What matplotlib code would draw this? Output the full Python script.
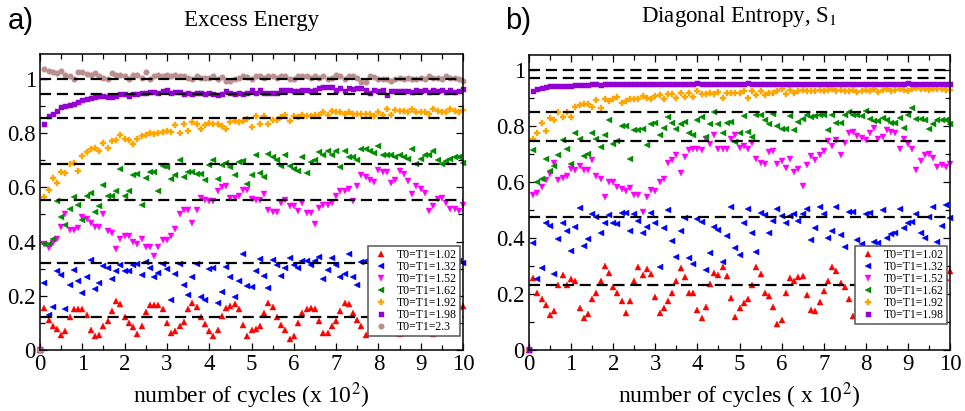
"""
Excess energy and diagonal entropy vs number of cycles
"""

import numpy as np
import matplotlib
matplotlib.use("Agg")
from matplotlib import pyplot as plt
from matplotlib.ticker import MultipleLocator, FuncFormatter

plt.rcParams['font.family'] = 'serif'
plt.rcParams['font.serif'] = ['Liberation Serif', 'DejaVu Serif']
plt.rcParams['mathtext.fontset'] = 'stix'

# =============================================================================
# DATA, x in units of 10^2 cycles
# =============================================================================

cycles = np.arange(101) / 10

# --- a) Excess Energy ---
e_102 = [0.0,
         0.156, 0.11, 0.09, 0.079, 0.056, 0.069, 0.12, 0.15, 0.15, 0.15,
         0.13, 0.075, 0.05, 0.056, 0.088, 0.106, 0.144, 0.18, 0.17, 0.12,
         0.10, 0.085, 0.06, 0.088, 0.14, 0.165, 0.165, 0.165, 0.15, 0.10,
         0.063, 0.069, 0.088, 0.103, 0.15, 0.173, 0.16, 0.12, 0.096, 0.069,
         0.05, 0.073, 0.125, 0.156, 0.163, 0.169, 0.153, 0.094, 0.053, 0.073,
         0.078, 0.09, 0.135, 0.173, 0.16, 0.12, 0.094, 0.075, 0.04, 0.053,
         0.10, 0.138, 0.153, 0.156, 0.15, 0.106, 0.063, 0.063, 0.088, 0.106,
         0.144, 0.175, 0.169, 0.135, 0.11, 0.088, 0.054, 0.07, 0.1, 0.14,
         0.17, 0.16, 0.12, 0.09, 0.06, 0.08, 0.12, 0.15, 0.17, 0.15,
         0.12, 0.08, 0.06, 0.08, 0.11, 0.14, 0.16, 0.15, 0.16, 0.163]
e_132 = [0.0,
         0.248, 0.13, 0.158, 0.29, 0.275, 0.153, 0.238, 0.294, 0.256, 0.21,
         0.27, 0.331, 0.225, 0.246, 0.31, 0.303, 0.263, 0.29, 0.315, 0.29,
         0.29, 0.315, 0.319, 0.275, 0.325, 0.303, 0.269, 0.285, 0.319, 0.30,
         0.185, 0.28, 0.319, 0.238, 0.204, 0.269, 0.319, 0.194, 0.185, 0.30,
         0.304, 0.173, 0.213, 0.306, 0.269, 0.194, 0.256, 0.353, 0.235, 0.231,
         0.29, 0.335, 0.273, 0.228, 0.331, 0.315, 0.273, 0.303, 0.34, 0.315,
         0.303, 0.328, 0.328, 0.313, 0.328, 0.344, 0.263, 0.294, 0.34, 0.315,
         0.269, 0.279, 0.356, 0.269, 0.24, 0.325, 0.328, 0.30, 0.26, 0.22,
         0.25, 0.29, 0.33, 0.34, 0.31, 0.27, 0.30, 0.33, 0.35, 0.31,
         0.28, 0.26, 0.30, 0.34, 0.33, 0.29, 0.31, 0.35, 0.33, 0.32]
e_152 = [0.0,
         0.39, 0.375, 0.394, 0.408, 0.454, 0.50, 0.444, 0.444, 0.45, 0.49,
         0.485, 0.469, 0.453, 0.453, 0.50, 0.44, 0.431, 0.373, 0.41, 0.42,
         0.42, 0.40, 0.39, 0.41, 0.38, 0.38, 0.348, 0.38, 0.405, 0.406,
         0.42, 0.448, 0.50, 0.515, 0.515, 0.47, 0.515, 0.56, 0.553, 0.548,
         0.548, 0.585, 0.60, 0.604, 0.56, 0.56, 0.567, 0.591, 0.591, 0.558,
         0.554, 0.554, 0.575, 0.517, 0.509, 0.509, 0.542, 0.554, 0.53, 0.53,
         0.511, 0.542, 0.505, 0.505, 0.464, 0.523, 0.536, 0.536, 0.542, 0.57,
         0.588, 0.585, 0.595, 0.55, 0.604, 0.644, 0.64, 0.628, 0.62, 0.665,
         0.657, 0.657, 0.616, 0.628, 0.66, 0.65, 0.622, 0.575, 0.604, 0.595,
         0.579, 0.514, 0.53, 0.558, 0.56, 0.542, 0.52, 0.52, 0.511, 0.536]
e_162 = [0.0,
         0.39, 0.39, 0.41, 0.55, 0.49, 0.46, 0.52, 0.565, 0.535, 0.478,
         0.57, 0.578, 0.51, 0.53, 0.61, 0.57, 0.57, 0.588, 0.669, 0.57,
         0.588, 0.644, 0.649, 0.536, 0.635, 0.657, 0.657, 0.588, 0.678, 0.674,
         0.632, 0.647, 0.70, 0.64, 0.657, 0.657, 0.649, 0.649, 0.628, 0.684,
         0.702, 0.632, 0.684, 0.69, 0.674, 0.647, 0.694, 0.696, 0.612, 0.647,
         0.718, 0.653, 0.637, 0.723, 0.711, 0.702, 0.678, 0.721, 0.678, 0.669,
         0.662, 0.711, 0.653, 0.694, 0.702, 0.731, 0.718, 0.733, 0.719, 0.736,
         0.674, 0.736, 0.711, 0.711, 0.702, 0.743, 0.74, 0.733, 0.727, 0.752,
         0.719, 0.719, 0.721, 0.711, 0.719, 0.711, 0.706, 0.74, 0.686, 0.706,
         0.719, 0.719, 0.736, 0.702, 0.686, 0.699, 0.706, 0.711, 0.711, 0.69]
e_192 = [0.0,
         0.565, 0.59, 0.636, 0.615, 0.657, 0.652, 0.685, 0.69, 0.66, 0.714,
         0.731, 0.743, 0.747, 0.735, 0.763, 0.747, 0.772, 0.775, 0.793, 0.778,
         0.775, 0.759, 0.778, 0.788, 0.793, 0.802, 0.798, 0.802, 0.805, 0.809,
         0.805, 0.83, 0.80, 0.833, 0.809, 0.842, 0.833, 0.817, 0.83, 0.837,
         0.833, 0.833, 0.827, 0.815, 0.842, 0.846, 0.842, 0.846, 0.854, 0.821,
         0.862, 0.833, 0.862, 0.833, 0.849, 0.849, 0.858, 0.867, 0.846, 0.864,
         0.858, 0.867, 0.864, 0.864, 0.867, 0.867, 0.877, 0.867, 0.883, 0.877,
         0.879, 0.87, 0.877, 0.87, 0.87, 0.87, 0.87, 0.87, 0.864, 0.877,
         0.867, 0.889, 0.867, 0.886, 0.883, 0.883, 0.877, 0.889, 0.877, 0.879,
         0.877, 0.87, 0.889, 0.883, 0.879, 0.877, 0.889, 0.883, 0.879, 0.885]
e_198 = [0.0,
         0.833, 0.862, 0.872, 0.883, 0.896, 0.902, 0.905, 0.909, 0.914, 0.921,
         0.925, 0.931, 0.933, 0.937, 0.937, 0.933, 0.933, 0.937, 0.943, 0.943,
         0.937, 0.946, 0.946, 0.949, 0.949, 0.953, 0.953, 0.949, 0.956, 0.958,
         0.949, 0.953, 0.953, 0.943, 0.949, 0.946, 0.949, 0.949, 0.946, 0.949,
         0.946, 0.941, 0.946, 0.956, 0.949, 0.946, 0.949, 0.946, 0.949, 0.958,
         0.949, 0.958, 0.949, 0.949, 0.949, 0.949, 0.958, 0.958, 0.958, 0.956,
         0.956, 0.958, 0.958, 0.956, 0.958, 0.968, 0.97, 0.97, 0.97, 0.958,
         0.965, 0.956, 0.965, 0.962, 0.965, 0.965, 0.958, 0.949, 0.958, 0.956,
         0.958, 0.941, 0.956, 0.956, 0.956, 0.956, 0.956, 0.953, 0.958, 0.956,
         0.958, 0.953, 0.958, 0.956, 0.958, 0.953, 0.958, 0.953, 0.956, 0.962]
e_230 = [0.0,
         1.035, 1.031, 1.027, 1.022, 1.031, 1.015, 1.012, 1.0, 1.027, 1.027,
         1.019, 1.015, 1.022, 1.01, 1.002, 0.998, 1.022, 1.015, 1.015, 1.012,
         1.0, 1.015, 1.015, 1.002, 1.027, 1.0, 1.01, 1.015, 1.01, 1.015,
         1.01, 1.015, 1.012, 1.01, 1.002, 1.0, 1.01, 1.002, 1.002, 1.002,
         1.01, 0.998, 1.006, 0.994, 0.994, 1.0, 1.002, 1.01, 1.006, 1.0,
         1.01, 1.01, 1.002, 1.01, 1.01, 1.002, 1.012, 1.01, 0.998, 1.0,
         1.01, 1.01, 1.012, 1.002, 1.01, 1.002, 1.01, 1.0, 1.002, 1.015,
         1.01, 1.0, 1.01, 1.012, 1.002, 0.99, 0.988, 1.01, 1.006, 1.0,
         1.0, 0.998, 0.994, 1.0, 1.002, 1.0, 1.002, 1.0, 1.0, 1.002,
         1.0, 1.01, 1.002, 1.002, 1.0, 1.01, 1.002, 1.002, 1.0, 0.994]
energy_levels = [0.12, 0.32, 0.553, 0.685, 0.857, 0.946, 1.0]

# --- b) Diagonal Entropy, S_1 ---
s_102 = [0.0,
         0.256, 0.205, 0.182, 0.16, 0.125, 0.14, 0.232, 0.268, 0.232, 0.252,
         0.246, 0.151, 0.113, 0.127, 0.181, 0.205, 0.248, 0.30, 0.274, 0.224,
         0.202, 0.175, 0.133, 0.176, 0.248, 0.295, 0.268, 0.288, 0.27, 0.19,
         0.133, 0.149, 0.176, 0.202, 0.248, 0.292, 0.262, 0.205, 0.202, 0.143,
         0.113, 0.152, 0.236, 0.276, 0.268, 0.295, 0.265, 0.185, 0.119, 0.151,
         0.169, 0.181, 0.232, 0.295, 0.271, 0.205, 0.193, 0.155, 0.092, 0.107,
         0.205, 0.256, 0.248, 0.262, 0.264, 0.196, 0.143, 0.139, 0.173, 0.212,
         0.248, 0.295, 0.283, 0.24, 0.224, 0.181, 0.121, 0.15, 0.2, 0.25,
         0.28, 0.26, 0.21, 0.16, 0.12, 0.15, 0.2, 0.25, 0.29, 0.27,
         0.22, 0.17, 0.13, 0.16, 0.21, 0.24, 0.28, 0.24, 0.256, 0.283]
s_132 = [0.0,
         0.381, 0.252, 0.292, 0.452, 0.443, 0.271, 0.395, 0.452, 0.423, 0.355,
         0.438, 0.506, 0.371, 0.395, 0.486, 0.474, 0.419, 0.452, 0.482, 0.455,
         0.45, 0.49, 0.488, 0.426, 0.486, 0.462, 0.419, 0.44, 0.488, 0.455,
         0.295, 0.435, 0.498, 0.39, 0.331, 0.426, 0.47, 0.327, 0.307, 0.467,
         0.458, 0.286, 0.348, 0.438, 0.429, 0.315, 0.407, 0.51, 0.363, 0.339,
         0.452, 0.502, 0.419, 0.351, 0.49, 0.482, 0.419, 0.462, 0.502, 0.479,
         0.455, 0.479, 0.486, 0.462, 0.486, 0.502, 0.393, 0.435, 0.51, 0.486,
         0.399, 0.423, 0.512, 0.411, 0.367, 0.494, 0.494, 0.393, 0.38, 0.486,
         0.488, 0.385, 0.383, 0.498, 0.40, 0.414, 0.419, 0.502, 0.435, 0.455,
         0.458, 0.486, 0.419, 0.399, 0.476, 0.51, 0.387, 0.443, 0.518, 0.47]
s_152 = [0.0,
         0.555, 0.562, 0.582, 0.606, 0.63, 0.669, 0.606, 0.614, 0.621, 0.645,
         0.642, 0.657, 0.642, 0.642, 0.677, 0.621, 0.612, 0.546, 0.598, 0.598,
         0.582, 0.574, 0.567, 0.579, 0.555, 0.552, 0.494, 0.546, 0.57, 0.567,
         0.598, 0.612, 0.669, 0.677, 0.695, 0.633, 0.689, 0.713, 0.717, 0.717,
         0.713, 0.752, 0.737, 0.769, 0.717, 0.717, 0.717, 0.752, 0.767, 0.721,
         0.729, 0.717, 0.74, 0.681, 0.669, 0.665, 0.705, 0.71, 0.665, 0.674,
         0.65, 0.681, 0.636, 0.645, 0.586, 0.66, 0.693, 0.677, 0.695, 0.71,
         0.745, 0.729, 0.749, 0.695, 0.74, 0.776, 0.779, 0.764, 0.757, 0.749,
         0.776, 0.793, 0.752, 0.761, 0.785, 0.779, 0.773, 0.719, 0.752, 0.737,
         0.717, 0.642, 0.674, 0.695, 0.698, 0.686, 0.654, 0.66, 0.654, 0.665]
s_162 = [0.0,
         0.714, 0.598, 0.61, 0.681, 0.64, 0.655, 0.695, 0.749, 0.719, 0.665,
         0.776, 0.752, 0.693, 0.701, 0.773, 0.752, 0.725, 0.769, 0.82, 0.737,
         0.745, 0.80, 0.80, 0.683, 0.785, 0.785, 0.788, 0.733, 0.808, 0.812,
         0.767, 0.793, 0.832, 0.812, 0.788, 0.805, 0.814, 0.776, 0.767, 0.82,
         0.832, 0.761, 0.808, 0.848, 0.805, 0.773, 0.812, 0.814, 0.743, 0.773,
         0.836, 0.779, 0.761, 0.838, 0.838, 0.82, 0.805, 0.844, 0.80, 0.788,
         0.788, 0.836, 0.785, 0.814, 0.826, 0.84, 0.832, 0.836, 0.84, 0.84,
         0.785, 0.838, 0.812, 0.812, 0.84, 0.848, 0.84, 0.838, 0.836, 0.852,
         0.826, 0.817, 0.817, 0.829, 0.82, 0.812, 0.812, 0.829, 0.793, 0.838,
         0.864, 0.826, 0.826, 0.82, 0.788, 0.805, 0.82, 0.82, 0.82, 0.805]
s_192 = [0.0,
         0.752, 0.776, 0.812, 0.783, 0.827, 0.821, 0.851, 0.833, 0.851, 0.831,
         0.867, 0.875, 0.879, 0.879, 0.867, 0.893, 0.863, 0.895, 0.89, 0.895,
         0.902, 0.881, 0.89, 0.895, 0.895, 0.895, 0.905, 0.899, 0.895, 0.905,
         0.911, 0.895, 0.914, 0.915, 0.898, 0.919, 0.904, 0.919, 0.904, 0.924,
         0.912, 0.915, 0.919, 0.915, 0.921, 0.898, 0.919, 0.919, 0.919, 0.919,
         0.924, 0.90, 0.924, 0.91, 0.924, 0.91, 0.919, 0.919, 0.924, 0.931,
         0.915, 0.927, 0.919, 0.924, 0.927, 0.924, 0.924, 0.924, 0.927, 0.924,
         0.927, 0.93, 0.924, 0.927, 0.924, 0.924, 0.927, 0.922, 0.924, 0.927,
         0.924, 0.933, 0.922, 0.927, 0.93, 0.924, 0.927, 0.93, 0.927, 0.924,
         0.93, 0.935, 0.93, 0.933, 0.927, 0.93, 0.933, 0.93, 0.927, 0.927]
s_198 = [0.0,
         0.924, 0.931, 0.936, 0.940, 0.943, 0.943, 0.943, 0.943, 0.943, 0.944,
         0.945, 0.945, 0.946, 0.946, 0.948, 0.948, 0.947, 0.948, 0.948, 0.949,
         0.948, 0.949, 0.950, 0.948, 0.949, 0.950, 0.949, 0.948, 0.950, 0.949,
         0.951, 0.949, 0.950, 0.949, 0.950, 0.951, 0.950, 0.949, 0.950, 0.952,
         0.950, 0.949, 0.950, 0.950, 0.949, 0.950, 0.951, 0.949, 0.950, 0.950,
         0.949, 0.952, 0.950, 0.950, 0.949, 0.950, 0.950, 0.949, 0.950, 0.950,
         0.951, 0.950, 0.949, 0.950, 0.951, 0.950, 0.950, 0.950, 0.949, 0.950,
         0.950, 0.951, 0.950, 0.950, 0.949, 0.950, 0.950, 0.951, 0.950, 0.950,
         0.949, 0.950, 0.950, 0.950, 0.951, 0.950, 0.949, 0.950, 0.950, 0.952,
         0.951, 0.950, 0.950, 0.951, 0.950, 0.950, 0.950, 0.949, 0.950, 0.949]
entropy_levels = [0.233, 0.476, 0.745, 0.848, 0.972, 1.0]

temperatures = ['1.02', '1.32', '1.52', '1.62', '1.92', '1.98', '2.3']

# marker styles per temperature
colors = ['#ff0000', '#0000ff', '#ff00ff', '#008b00',
          '#ffa500', '#9400d3', '#bc8f8f']
markers = ['^', '<', 'v', '<', 'P', 's', 'o']
msizes = [5.0, 5.0, 5.0, 5.0, 5.0, 3.6, 4.0]


def draw_panel(ax, series, levels, ymax, legend_y):
    """Rysuje jeden panel: punkty, poziomy przerywane, osie, legenda"""
    for i, vals in enumerate(series):
        ax.plot(cycles, vals, linestyle='none', marker=markers[i],
                ms=msizes[i], color=colors[i], mec=colors[i], mew=0.3,
                label=f'T0=T1={temperatures[i]}', zorder=2, clip_on=False)
    for lev in levels:
        ax.axhline(lev, color='black', lw=1.6, ls=(0, (5, 2.6)), zorder=3)

    ax.set_xlim(0, 10)
    ax.set_ylim(0, ymax)
    ax.xaxis.set_major_locator(MultipleLocator(1))
    ax.xaxis.set_minor_locator(MultipleLocator(0.5))
    ax.yaxis.set_major_locator(MultipleLocator(0.2))
    ax.yaxis.set_minor_locator(MultipleLocator(0.1))
    ax.yaxis.set_major_formatter(FuncFormatter(lambda v, p: f'{v:g}'))
    ax.tick_params(which='both', direction='in', top=True, right=True,
                   labelsize=16.5, width=0.9)
    ax.tick_params(which='major', length=5, pad=3)
    ax.tick_params(which='minor', length=3.5)
    for sp in ax.spines.values():
        sp.set_linewidth(1.1)

    leg = ax.legend(loc='lower right', bbox_to_anchor=(0.993, legend_y),
                    borderaxespad=0, fontsize=8.5, numpoints=1,
                    handlelength=1.6, handletextpad=0.6, borderpad=0.25,
                    labelspacing=0.0, fancybox=False, framealpha=1)
    leg.get_frame().set_edgecolor('#555555')
    leg.get_frame().set_linewidth(1.1)
    leg.set_zorder(5)


fig = plt.figure(figsize=(9.65, 4.11), dpi=100)
ax_e = fig.add_axes([0.0415, 0.1484, 0.4383, 0.7202])
ax_s = fig.add_axes([0.5482, 0.1484, 0.4363, 0.7178])

draw_panel(ax_e, [e_102, e_132, e_152, e_162, e_192, e_198, e_230],
           energy_levels, 1.092, 0.047)
draw_panel(ax_s, [s_102, s_132, s_152, s_162, s_192, s_198],
           entropy_levels, 1.053, 0.088)

ax_e.set_xlabel('number of cycles (x 10$^{2}$)', fontsize=17, labelpad=4)
ax_s.set_xlabel('number of cycles ( x 10$^{2}$)', fontsize=17, labelpad=4)

fig.text(0.2607, 0.937, 'Excess Energy', fontsize=16.5,
         ha='center', va='baseline')
fig.text(0.7663, 0.946, 'Diagonal Entropy, S$_{1}$', fontsize=16.5,
         ha='center', va='baseline')

fig.text(0.008, 0.95, 'a)', fontsize=21, family='Liberation Sans',
         va='center', ha='left')
fig.text(0.523, 0.95, 'b)', fontsize=21, family='Liberation Sans',
         va='center', ha='left')

fig.savefig('out.png', dpi=100)
